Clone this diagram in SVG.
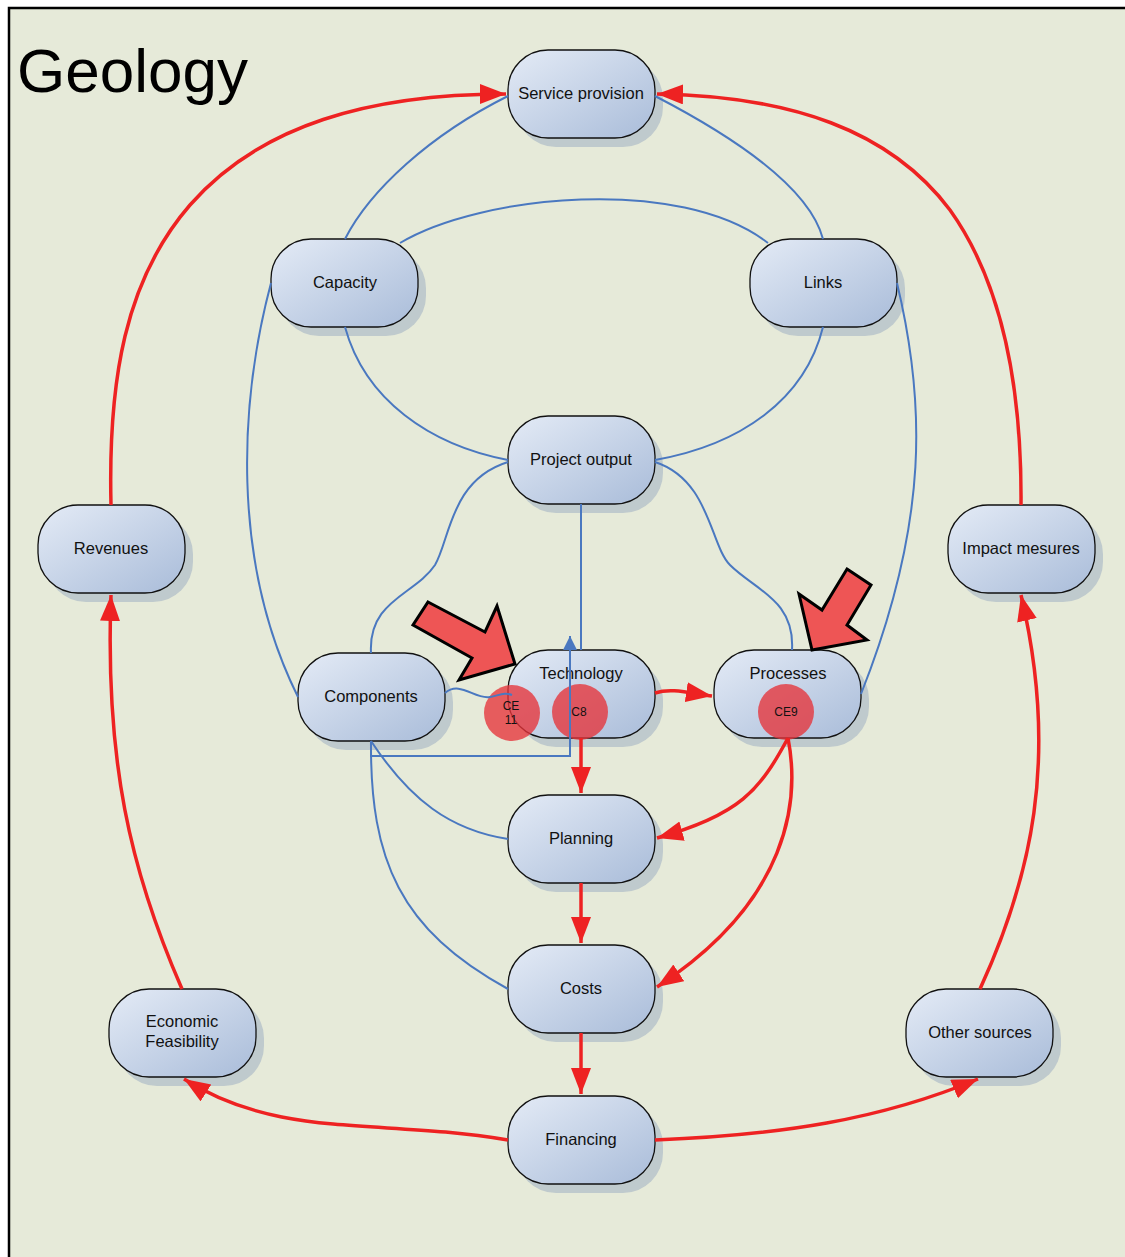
<svg xmlns="http://www.w3.org/2000/svg" width="1125" height="1257" viewBox="0 0 1125 1257">
<defs>
<linearGradient id="ng" x1="0" y1="0" x2="1" y2="1">
<stop offset="0" stop-color="#e4ebf6"/>
<stop offset="1" stop-color="#a9bcd9"/>
</linearGradient>
<marker id="ra" markerUnits="userSpaceOnUse" markerWidth="28" markerHeight="22" refX="26" refY="10" orient="auto">
<path d="M0,0 L26,10 L0,20 z" fill="#ee2222"/>
</marker>
<marker id="ba" markerUnits="userSpaceOnUse" markerWidth="14" markerHeight="16" refX="14" refY="7" orient="auto">
<path d="M0,0 L14,7 L0,14 z" fill="#4a78c0"/>
</marker>
</defs>
<style>
.sh{fill:#b2bfc8;opacity:0.75}
.nd{fill:url(#ng);stroke:#111;stroke-width:1.3}
.t{font-family:"Liberation Sans",Arial,sans-serif;font-size:16.5px;fill:#111;text-anchor:middle}
.ct{font-family:"Liberation Sans",Arial,sans-serif;font-size:12px;fill:#111;text-anchor:middle}
.r{fill:none;stroke:#ee2222;stroke-width:3.5}
.b{fill:none;stroke:#4a78c0;stroke-width:2}
.cc{fill:#e6333a;opacity:0.78}
.blk{fill:#ee5555;stroke:#000;stroke-width:3;stroke-linejoin:miter}
</style>
<rect x="0" y="0" width="1125" height="1257" fill="#ffffff"/>
<rect x="9" y="8" width="1130" height="1270" fill="#e6ead9" stroke="#000" stroke-width="2.5"/>
<text x="17" y="92" font-family="Liberation Sans,Arial,sans-serif" font-size="62" fill="#000">Geology</text>

<g id="n-service">
<rect class="sh" x="516" y="59" width="147" height="88" rx="40"/>
<rect class="nd" x="508" y="50" width="147" height="88" rx="40"/>
<text class="t" x="581" y="99">Service provision</text>
</g>
<g id="n-capacity">
<rect class="sh" x="279" y="248" width="147" height="88" rx="40"/>
<rect class="nd" x="271" y="239" width="147" height="88" rx="40"/>
<text class="t" x="345" y="288">Capacity</text>
</g>
<g id="n-links">
<rect class="sh" x="758" y="248" width="147" height="88" rx="40"/>
<rect class="nd" x="750" y="239" width="147" height="88" rx="40"/>
<text class="t" x="823" y="288">Links</text>
</g>
<g id="n-output">
<rect class="sh" x="516" y="425" width="147" height="88" rx="40"/>
<rect class="nd" x="508" y="416" width="147" height="88" rx="40"/>
<text class="t" x="581" y="465">Project output</text>
</g>
<g id="n-revenues">
<rect class="sh" x="46" y="514" width="147" height="88" rx="40"/>
<rect class="nd" x="38" y="505" width="147" height="88" rx="40"/>
<text class="t" x="111" y="554">Revenues</text>
</g>
<g id="n-impact">
<rect class="sh" x="956" y="514" width="147" height="88" rx="40"/>
<rect class="nd" x="948" y="505" width="147" height="88" rx="40"/>
<text class="t" x="1021" y="554">Impact mesures</text>
</g>
<g id="n-components">
<rect class="sh" x="306" y="662" width="147" height="88" rx="40"/>
<rect class="nd" x="298" y="653" width="147" height="88" rx="40"/>
<text class="t" x="371" y="702">Components</text>
</g>
<g id="n-technology">
<rect class="sh" x="516" y="659" width="147" height="88" rx="40"/>
<rect class="nd" x="508" y="650" width="147" height="88" rx="40"/>
<text class="t" x="581" y="679">Technology</text>
</g>
<g id="n-processes">
<rect class="sh" x="722" y="659" width="147" height="88" rx="40"/>
<rect class="nd" x="714" y="650" width="147" height="88" rx="40"/>
<text class="t" x="788" y="679">Processes</text>
</g>
<g id="n-planning">
<rect class="sh" x="516" y="804" width="147" height="88" rx="40"/>
<rect class="nd" x="508" y="795" width="147" height="88" rx="40"/>
<text class="t" x="581" y="844">Planning</text>
</g>
<g id="n-costs">
<rect class="sh" x="516" y="954" width="147" height="88" rx="40"/>
<rect class="nd" x="508" y="945" width="147" height="88" rx="40"/>
<text class="t" x="581" y="994">Costs</text>
</g>
<g id="n-economic">
<rect class="sh" x="117" y="998" width="147" height="88" rx="40"/>
<rect class="nd" x="109" y="989" width="147" height="88" rx="40"/>
<text class="t" x="182" y="1027">Economic</text>
<text class="t" x="182" y="1047">Feasibility</text>
</g>
<g id="n-other">
<rect class="sh" x="914" y="998" width="147" height="88" rx="40"/>
<rect class="nd" x="906" y="989" width="147" height="88" rx="40"/>
<text class="t" x="980" y="1038">Other sources</text>
</g>
<g id="n-financing">
<rect class="sh" x="516" y="1105" width="147" height="88" rx="40"/>
<rect class="nd" x="508" y="1096" width="147" height="88" rx="40"/>
<text class="t" x="581" y="1145">Financing</text>
</g>

<g id="markers-ce">
<circle class="cc" cx="512" cy="713" r="28"/>
<circle class="cc" cx="580" cy="712" r="28"/>
<circle class="cc" cx="786" cy="712" r="28"/>
<text class="ct" x="511" y="710">CE</text>
<text class="ct" x="511" y="724">11</text>
<text class="ct" x="579" y="716">C8</text>
<text class="ct" x="786" y="716">CE9</text>
</g>

<g id="connectors">
<path class="b" d="M508,96 C430,135 370,190 345,239"/>
<path class="b" d="M655,96 C740,140 810,190 823,239"/>
<path class="b" d="M400,243 C480,195 680,175 768,243"/>
<path class="b" d="M345,327 C365,400 430,445 508,460"/>
<path class="b" d="M823,327 C805,400 740,445 655,460"/>
<path class="b" d="M271,283 C240,400 230,560 298,697"/>
<path class="b" d="M897,283 C925,400 930,520 861,694"/>
<path class="b" d="M508,462 C450,480 450,540 435,565 C415,595 368,600 371,653"/>
<path class="b" d="M655,462 C710,480 710,545 730,565 C755,590 795,600 792,650"/>
<path class="b" d="M581,504 L581,650"/>
<path class="b" d="M445,693 C460,680 475,700 490,697 C500,695 505,692 512,695"/>
<path class="b" d="M371,741 L371,756 L570,756 L570,636" marker-end="url(#ba)"/>
<path class="b" d="M371,741 C410,800 450,830 508,839"/>
<path class="b" d="M371,741 C370,860 400,930 508,989"/>

<path class="r" d="M111,505 C108,380 125,280 190,205 C260,125 370,94 506,94" marker-end="url(#ra)"/>
<path class="r" d="M1021,505 C1022,380 1000,280 950,210 C890,130 790,96 657,94" marker-end="url(#ra)"/>
<path class="r" d="M182,989 C130,870 105,760 111,595" marker-end="url(#ra)"/>
<path class="r" d="M980,989 C1030,880 1060,760 1021,595" marker-end="url(#ra)"/>
<path class="r" d="M508,1140 C380,1118 280,1140 184,1079" marker-end="url(#ra)"/>
<path class="r" d="M655,1140 C780,1135 880,1120 978,1079" marker-end="url(#ra)"/>
<path class="r" d="M581,1033 L581,1094" marker-end="url(#ra)"/>
<path class="r" d="M581,883 L581,943" marker-end="url(#ra)"/>
<path class="r" d="M581,738 L581,793" marker-end="url(#ra)"/>
<path class="r" d="M655,693 C670,688 685,692 712,696" marker-end="url(#ra)"/>
<path class="r" d="M788,738 C760,790 740,815 657,838" marker-end="url(#ra)"/>
<path class="r" d="M788,738 C800,800 790,900 657,987" marker-end="url(#ra)"/>
</g>

<g id="block-arrows">
<polygon class="blk" points="428,602 485,632 497,606 515,664 459,680 472,658 413,625"/>
<polygon class="blk" points="847,569 871,585 847,625 867,640 812,650 799,594 822,610"/>
</g>
</svg>
